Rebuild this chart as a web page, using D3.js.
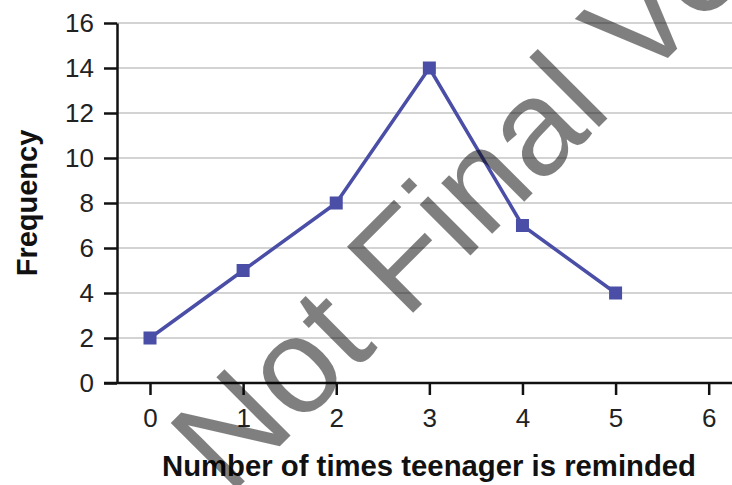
<!DOCTYPE html>
<html>
<head>
<meta charset="utf-8">
<script src="https://cdn.jsdelivr.net/npm/d3@7"></script>
<style>
  html, body { margin: 0; padding: 0; background: #ffffff; }
  svg { display: block; }
</style>
</head>
<body>
<script>
// ---- data ----
const xValues = [0, 1, 2, 3, 4, 5];
const frequencies = [2, 5, 8, 14, 7, 4];
const xTicks = [0, 1, 2, 3, 4, 5, 6];
const yTicks = [0, 2, 4, 6, 8, 10, 12, 14, 16];
const xTitle = "Number of times teenager is reminded";
const yTitle = "Frequency";
const watermark = "Not Final Version";

// ---- layout ----
const W = 732, H = 485;
const axisX = 117, axisY = 383;
const x = d3.scaleLinear().domain([0, 6]).range([150, 708.7]);
const y = d3.scaleLinear().domain([0, 16]).range([383, 23]);
const font = "'Liberation Sans', Arial, Helvetica, sans-serif";
const lineColor = "#4a4ea6";

const svg = d3.select("body").append("svg")
  .attr("width", W).attr("height", H)
  .style("background", "#fff");

// gridlines
svg.append("g").selectAll("line")
  .data(yTicks.filter(d => d > 0))
  .join("line")
  .attr("x1", axisX).attr("x2", W)
  .attr("y1", d => y(d)).attr("y2", d => y(d))
  .attr("stroke", "#d3d3d3").attr("stroke-width", 2);

// y axis
const yAxis = svg.append("g")
  .attr("transform", `translate(${axisX},0)`)
  .call(d3.axisLeft(y).tickValues(yTicks).tickFormat(d3.format("d"))
    .tickSize(13).tickPadding(10).tickSizeOuter(0));
yAxis.select(".domain").attr("stroke", "#111").attr("stroke-width", 2.5);
yAxis.selectAll(".tick line").attr("stroke", "#111").attr("stroke-width", 2.5);
yAxis.selectAll(".tick text")
  .attr("font-family", font).attr("font-size", 26).attr("fill", "#222");

// x axis
const xAxis = svg.append("g")
  .attr("transform", `translate(0,${axisY})`)
  .call(d3.axisBottom(x).tickValues(xTicks).tickFormat(d3.format("d"))
    .tickSize(12).tickPadding(14).tickSizeOuter(0));
xAxis.select(".domain").remove();
xAxis.append("line")
  .attr("x1", 104).attr("x2", W).attr("y1", 0).attr("y2", 0)
  .attr("stroke", "#111").attr("stroke-width", 2.5);
xAxis.selectAll(".tick line").attr("stroke", "#111").attr("stroke-width", 2.5);
xAxis.selectAll(".tick text")
  .attr("font-family", font).attr("font-size", 26).attr("fill", "#222");

// series line
const pts = xValues.map((v, i) => [v, frequencies[i]]);
svg.append("path")
  .datum(pts)
  .attr("fill", "none")
  .attr("stroke", lineColor)
  .attr("stroke-width", 3.5)
  .attr("stroke-linejoin", "round")
  .attr("d", d3.line().x(d => x(d[0])).y(d => y(d[1])));

// markers
const ms = 13;
svg.append("g").selectAll("rect")
  .data(pts)
  .join("rect")
  .attr("x", d => x(d[0]) - ms / 2)
  .attr("y", d => y(d[1]) - ms / 2)
  .attr("width", ms).attr("height", ms)
  .attr("fill", lineColor);

// axis titles
svg.append("text")
  .attr("x", 429).attr("y", 476)
  .attr("text-anchor", "middle")
  .attr("font-family", font).attr("font-weight", "bold").attr("font-size", 29.3)
  .attr("fill", "#111")
  .text(xTitle);

svg.append("text")
  .attr("transform", "translate(37,203) rotate(-90)")
  .attr("text-anchor", "middle")
  .attr("font-family", font).attr("font-weight", "bold").attr("font-size", 29)
  .attr("fill", "#111")
  .text(yTitle);

// watermark (cut off at the edge, as in the reference)
svg.append("text")
  .attr("transform", "translate(229,497) rotate(-45)")
  .attr("font-family", font).attr("font-size", 136)
  .attr("fill", "#000").attr("fill-opacity", 0.5)
  .text(watermark);
</script>
</body>
</html>
